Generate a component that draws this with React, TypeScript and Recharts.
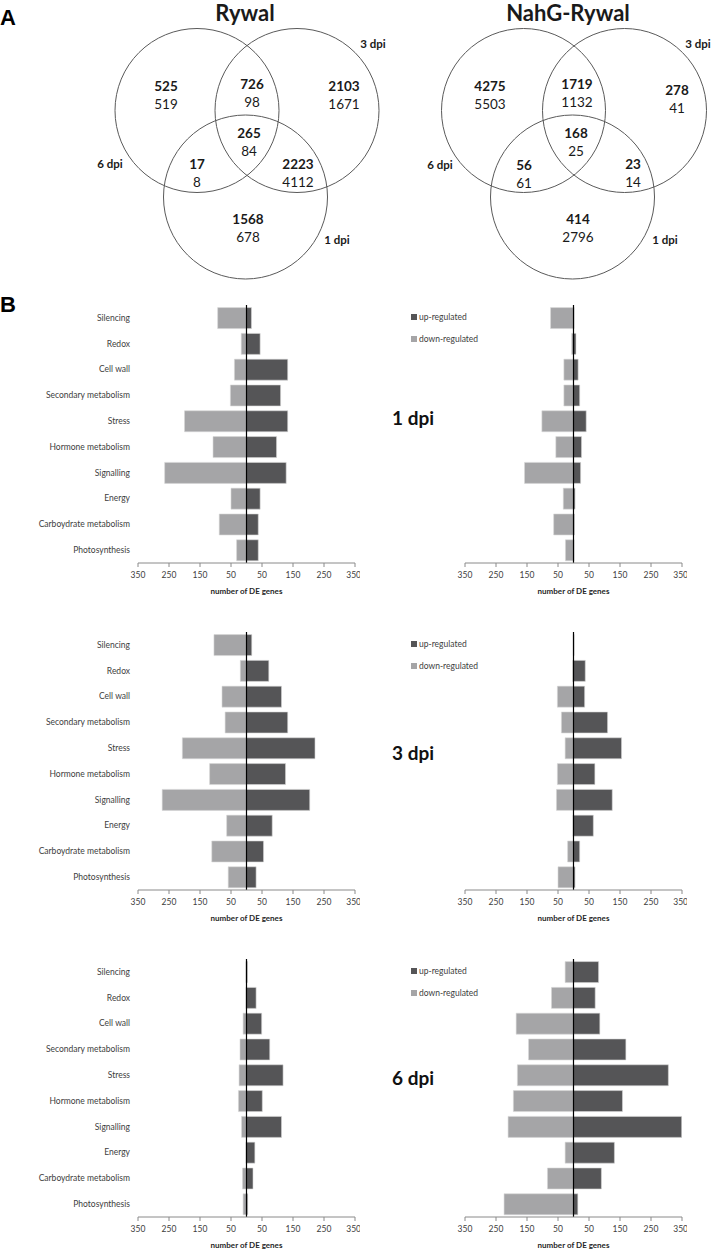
import React from 'react';
import { BarChart, Bar, XAxis, YAxis, ReferenceLine, Legend, ScatterChart, Scatter } from 'recharts';

// categories, top to bottom
const categories = [
  'Silencing',
  'Redox',
  'Cell wall',
  'Secondary metabolism',
  'Stress',
  'Hormone metabolism',
  'Signalling',
  'Energy',
  'Carboydrate metabolism',
  'Photosynthesis',
];

const xTicks = [-350, -250, -150, -50, 50, 150, 250, 350];

// number of DE genes per category (up / down)
const rywal1Up = [16, 44, 133, 110, 133, 97, 128, 44, 38, 38];
const rywal1Down = [93, 17, 39, 52, 200, 108, 264, 50, 88, 32];
const nahg1Up = [2, 8, 15, 20, 41, 26, 23, 5, 3, 2];
const nahg1Down = [74, 6, 31, 31, 102, 57, 158, 33, 64, 26];

const rywal3Up = [17, 72, 113, 133, 221, 126, 204, 83, 55, 31];
const rywal3Down = [105, 20, 79, 69, 207, 119, 272, 64, 112, 59];
const nahg3Up = [2, 38, 36, 110, 155, 69, 125, 64, 20, 5];
const nahg3Down = [1, 3, 52, 39, 27, 52, 55, 2, 19, 50];

const rywal6Up = [3, 31, 49, 75, 118, 51, 113, 27, 21, 4];
const rywal6Down = [2, 2, 11, 21, 24, 26, 16, 2, 13, 11];
const nahg6Up = [81, 70, 85, 169, 306, 158, 349, 132, 90, 14];
const nahg6Down = [27, 71, 185, 145, 181, 194, 211, 27, 84, 224];

// Venn counts, regions: 6 only, 6&3, 3 only, 6&1, all, 3&1, 1 only
const rywalVennUp = [525, 726, 2103, 17, 265, 2223, 1568];
const rywalVennDown = [519, 98, 1671, 8, 84, 4112, 678];
const nahgVennUp = [4275, 1719, 278, 56, 168, 23, 414];
const nahgVennDown = [5503, 1132, 41, 61, 25, 14, 2796];
const setNames = ['6 dpi', '3 dpi', '1 dpi'];

const UP_COLOR = '#555557';
const DOWN_COLOR = '#a5a5a7';

// venn layout (chart coords == pixels)
const R = 82;
const rywalCircles = [
  { x: 197, y: 110.5 },
  { x: 297, y: 110.5 },
  { x: 245.5, y: 197 },
];
const nahgCircles = [
  { x: 523.5, y: 110.5 },
  { x: 624.5, y: 110.5 },
  { x: 572.5, y: 197 },
];
const rywalRegionPos = [
  [166, 86], [252, 84], [344, 86], [197, 164], [249, 133], [298, 164], [248, 219],
];
const nahgRegionPos = [
  [490, 86], [577, 84], [677, 90], [524, 165], [576, 133], [633, 164], [578, 219],
];
const rywalSetPos = [[110, 164], [373, 44], [337, 240]];
const nahgSetPos = [[440, 165], [698, 44], [665, 240]];

const CircleShape = (props: any) => (
  <circle cx={props.cx} cy={props.cy} r={R} fill="none" stroke="#5a5a5a" strokeWidth={1} />
);

const TextShape = (props: any) => {
  const p = props.payload;
  return (
    <text
      x={props.cx}
      y={props.cy}
      dy="0.35em"
      textAnchor="middle"
      fontSize={p.size}
      fontWeight={p.bold ? 700 : 400}
      fill="#1a1a1a"
    >
      {p.text}
    </text>
  );
};

const buildVennLabels = (
  title: string,
  titleX: number,
  up: number[],
  down: number[],
  regionPos: number[][],
  setPos: number[][],
) => {
  const out: any[] = [{ x: titleX, y: 13, text: title, bold: true, size: 22 }];
  up.forEach((v, i) => {
    out.push({ x: regionPos[i][0], y: regionPos[i][1], text: String(v), bold: true, size: 13.5 });
    out.push({ x: regionPos[i][0], y: regionPos[i][1] + 18, text: String(down[i]), bold: false, size: 13.5 });
  });
  setNames.forEach((s, i) => {
    out.push({ x: setPos[i][0], y: setPos[i][1], text: s, bold: true, size: 11.5 });
  });
  return out;
};

const VennPanel = () => {
  const circles = [...rywalCircles, ...nahgCircles];
  const labels = [
    ...buildVennLabels('Rywal', 245, rywalVennUp, rywalVennDown, rywalRegionPos, rywalSetPos),
    ...buildVennLabels('NahG-Rywal', 568, nahgVennUp, nahgVennDown, nahgRegionPos, nahgSetPos),
  ];
  return (
    <ScatterChart width={713} height={290} margin={{ top: 0, right: 0, bottom: 0, left: 0 }}>
      <XAxis type="number" dataKey="x" domain={[0, 713]} hide />
      <YAxis type="number" dataKey="y" domain={[0, 290]} reversed hide />
      <Scatter data={circles} shape={CircleShape} isAnimationActive={false} />
      <Scatter data={labels} shape={TextShape} isAnimationActive={false} />
    </ScatterChart>
  );
};

const LegendBox = (props: any) => {
  const items = [...(props.payload || [])].sort((a: any, b: any) =>
    a.value === 'up-regulated' ? -1 : b.value === 'up-regulated' ? 1 : 0,
  );
  return (
    <div>
      {items.map((item: any) => (
        <div
          key={item.value}
          style={{ display: 'flex', alignItems: 'center', height: 22, fontSize: 8.5, color: '#404040' }}
        >
          <span style={{ width: 6, height: 6, background: item.color, marginRight: 2, display: 'inline-block' }} />
          {item.value}
        </div>
      ))}
    </div>
  );
};

const CategoryTick = (props: any) => (
  <text x={props.x} y={props.y} dy="0.35em" textAnchor="end" fontSize={8.5} fill="#404040">
    {props.payload.value}
  </text>
);

type PanelProps = {
  up: number[];
  down: number[];
  withCategories: boolean;
  left: number;
  top: number;
};

const DePanel = ({ up, down, withCategories, left, top }: PanelProps) => {
  const rows = categories.map((name, i) => ({ name, up: up[i], down: -down[i] }));
  return (
    <div style={{ position: 'absolute', left, top }}>
      <BarChart
        width={withCategories ? 360 : 332}
        height={307}
        data={rows}
        layout="vertical"
        stackOffset="sign"
        barCategoryGap="10%"
        margin={{ top: 9, right: 5, bottom: 0, left: withCategories ? 0 : 110 }}
      >
        <XAxis
          type="number"
          domain={[-350, 350]}
          ticks={xTicks}
          allowDataOverflow
          tickFormatter={(v: number) => String(Math.abs(v))}
          height={40}
          stroke="#8a8a8a"
          tickSize={4}
          tickMargin={5}
          tick={{ fontSize: 8.5, fill: '#404040' }}
          label={{
            value: 'number of DE genes',
            position: 'insideBottom',
            offset: 9,
            style: { fontSize: 8, fontWeight: 700, fill: '#262626' },
          }}
        />
        <YAxis
          type="category"
          dataKey="name"
          hide={!withCategories}
          width={138}
          interval={0}
          axisLine={false}
          tickLine={false}
          tick={<CategoryTick />}
        />
        <Bar dataKey="up" name="up-regulated" stackId="a" fill={UP_COLOR} stroke="#d6d6d6" strokeWidth={0.6} isAnimationActive={false} />
        <Bar dataKey="down" name="down-regulated" stackId="a" fill={DOWN_COLOR} stroke="#d6d6d6" strokeWidth={0.6} isAnimationActive={false} />
        <ReferenceLine x={0} stroke="#000" strokeWidth={1.2} />
        {!withCategories && (
          <Legend
            layout="vertical"
            align="center"
            verticalAlign="middle"
            content={<LegendBox />}
            wrapperStyle={{ top: 10, left: 56, width: 100, height: 44 }}
          />
        )}
      </BarChart>
    </div>
  );
};

const dpiLabel = (text: string, top: number) => (
  <div style={{ position: 'absolute', left: 392, top, fontSize: 19, fontWeight: 700, lineHeight: '20px', color: '#111' }}>
    {text}
  </div>
);

const panelLetter = (text: string, top: number) => (
  <div
    style={{
      position: 'absolute',
      left: 0,
      top,
      fontFamily: '"Liberation Sans", Arial, sans-serif',
      fontSize: 22,
      fontWeight: 700,
      lineHeight: '22px',
      color: '#000',
    }}
  >
    {text}
  </div>
);

export default function App() {
  return (
    <div
      style={{
        position: 'absolute',
        left: 0,
        top: 0,
        width: 713,
        height: 1250,
        background: '#fff',
        overflow: 'hidden',
        fontFamily: 'Lato, "Open Sans", sans-serif',
      }}
    >
      <div style={{ position: 'absolute', left: 0, top: 0 }}>
        <VennPanel />
      </div>
      {panelLetter('A', 7)}
      {panelLetter('B', 294)}

      <DePanel up={rywal1Up} down={rywal1Down} withCategories left={0} top={296} />
      <DePanel up={nahg1Up} down={nahg1Down} withCategories={false} left={355} top={296} />
      {dpiLabel('1 dpi', 408)}

      <DePanel up={rywal3Up} down={rywal3Down} withCategories left={0} top={623} />
      <DePanel up={nahg3Up} down={nahg3Down} withCategories={false} left={355} top={623} />
      {dpiLabel('3 dpi', 743)}

      <DePanel up={rywal6Up} down={rywal6Down} withCategories left={0} top={950} />
      <DePanel up={nahg6Up} down={nahg6Down} withCategories={false} left={355} top={950} />
      {dpiLabel('6 dpi', 1068)}
    </div>
  );
}
